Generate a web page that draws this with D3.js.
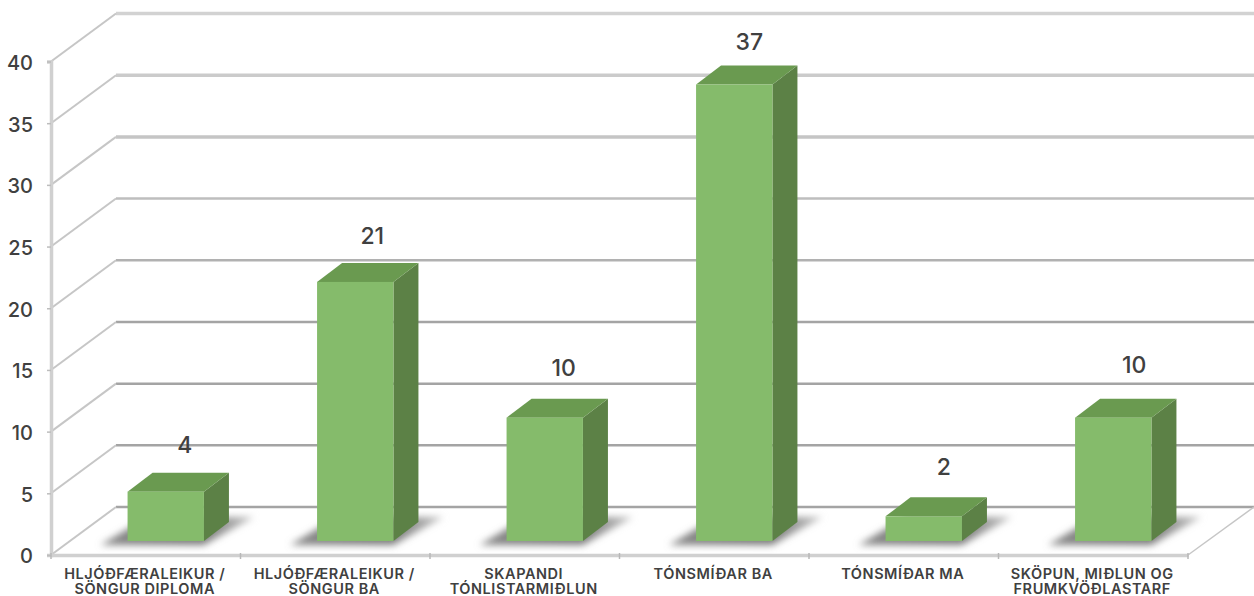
<!DOCTYPE html>
<html>
<head>
<meta charset="utf-8">
<script src="https://cdn.jsdelivr.net/npm/d3@7"></script>
<style>
  html, body { margin: 0; padding: 0; background: #fff; overflow: hidden; }
  text { font-family: Inter, "Open Sans", sans-serif; }
</style>
</head>
<body>
<div id="vis-container"></div>
<script>
// data
const categories = ["HLJÓÐFÆRALEIKUR / SÖNGUR DIPLOMA", "HLJÓÐFÆRALEIKUR / SÖNGUR BA", "SKAPANDI TÓNLISTARMIÐLUN",
                    "TÓNSMÍÐAR BA", "TÓNSMÍÐAR MA", "SKÖPUN, MIÐLUN OG FRUMKVÖÐLASTARF"];
const categoryLines = [["HLJÓÐFÆRALEIKUR /", "SÖNGUR DIPLOMA"], ["HLJÓÐFÆRALEIKUR /", "SÖNGUR BA"], ["SKAPANDI", "TÓNLISTARMIÐLUN"],
                       ["TÓNSMÍÐAR BA"], ["TÓNSMÍÐAR MA"], ["SKÖPUN, MIÐLUN OG", "FRUMKVÖÐLASTARF"]];
const values = [4, 21, 10, 37, 2, 10];
const yTicks = [0, 5, 10, 15, 20, 25, 30, 35, 40];

const width = 1254;
const height = 596;

// the 3d box: front plane of the axes, back wall is shifted by depth
const depthX = 65;
const depthY = -48;
const barDepthX = 25;
const barDepthY = -19;

// value labels were placed by hand in the original, small shifts per bar
const labelShiftX = [0, -2, 0, -4, 1, 2];
const labelShiftY = [0, 1, -3, 4, -2, -6];

const svg = d3.select("#vis-container")
              .append("svg")
              .attr("width", width)
              .attr("height", height)
              .style("display", "block");

const defs = svg.append("defs");
defs.append("filter").attr("id", "blur")
    .attr("x", "-30%").attr("y", "-60%").attr("width", "160%").attr("height", "220%")
    .append("feGaussianBlur").attr("stdDeviation", 3.5);
const shadowFade = defs.append("linearGradient").attr("id", "shadowFade");
shadowFade.append("stop").attr("offset", "0%").attr("stop-color", "#8a8a8a");
shadowFade.append("stop").attr("offset", "65%").attr("stop-color", "#7a7a7a");
shadowFade.append("stop").attr("offset", "100%").attr("stop-color", "#c4c4c4");

const x = d3.scaleBand().domain(categories).range([51, 1188]);
const y = d3.scaleLinear().domain([0, 40]).range([555, 61.5]);
const gridColor = d3.scaleLinear().domain([0, 15, 25, 40])
                    .range(["#a4a4a4", "#a4a4a4", "#bebebe", "#d2d2d2"]);

// height of a bar, bars stand a bit inside the floor so their base is not on y(0)
const barBase = 541;
const barH = d3.scaleLinear().domain([0, 40]).range([0, 493.5]);
const barW = x.bandwidth() * 0.403;
const barX = (d) => x(d) + x.bandwidth() / 2 - barW / 2 + 20;

// back wall grid lines
svg.append("g").selectAll("line")
   .data(yTicks)
   .join("line")
   .attr("x1", x.range()[0] + depthX)
   .attr("x2", width)
   .attr("y1", (d) => y(d) + depthY)
   .attr("y2", (d) => y(d) + depthY)
   .attr("stroke", (d) => gridColor(d))
   .attr("stroke-width", (d) => d > 25 ? 3.5 : 2.5);

// side wall lines
svg.append("g").selectAll("line")
   .data(yTicks)
   .join("line")
   .attr("x1", x.range()[0])
   .attr("x2", x.range()[0] + depthX)
   .attr("y1", (d) => y(d))
   .attr("y2", (d) => y(d) + depthY)
   .attr("stroke", "#c6c6c6")
   .attr("stroke-width", 2);

// right edge of the floor
svg.append("line")
   .attr("x1", x.range()[1]).attr("y1", y(0))
   .attr("x2", width).attr("y2", y(0) + depthY)
   .attr("stroke", "#c6c6c6")
   .attr("stroke-width", 1.5);

// y axis
const yAxis = svg.append("g")
    .attr("transform", "translate(51,0)")
    .call(d3.axisLeft(y).tickValues(yTicks).tickSize(4).tickPadding(14));
yAxis.select(".domain").attr("stroke", "#d0d0d0").attr("stroke-width", 3.5);
yAxis.selectAll("line").attr("stroke", "#bdbdbd").attr("stroke-width", 1.5);
yAxis.selectAll("text").attr("font-size", 20).attr("font-weight", 500).attr("fill", "#404040")
     .attr("transform", "translate(0,1.5)");

// x axis, the library puts ticks mid band so they are hidden and the edges drawn below
const xAxis = svg.append("g")
    .attr("transform", `translate(0,${y(0)})`)
    .call(d3.axisBottom(x).tickSize(0).tickFormat(""));
xAxis.select(".domain").attr("stroke", "#d0d0d0").attr("stroke-width", 3.5);

svg.append("g").selectAll("line")
   .data(categories.concat(["end"]))
   .join("line")
   .attr("x1", (d, i) => i < categories.length ? x(d) : x.range()[1])
   .attr("x2", (d, i) => i < categories.length ? x(d) : x.range()[1])
   .attr("y1", y(0) - 2)
   .attr("y2", y(0) + 4)
   .attr("stroke", "#b8b8b8")
   .attr("stroke-width", 1.5);

// category labels
const catLabels = svg.append("g").selectAll("text")
   .data(categories)
   .join("text")
   .attr("text-anchor", "middle")
   .attr("font-size", 14.5)
   .attr("font-weight", 600)
   .attr("letter-spacing", 0.55)
   .attr("fill", "#404040");
catLabels.each(function(d, i) {
    d3.select(this).selectAll("tspan")
      .data(categoryLines[i])
      .join("tspan")
      .attr("x", x(d) + x.bandwidth() / 2 - 1)
      .attr("y", (l, j) => 579 + j * 15)
      .text((l) => l);
});

// shadows on the floor
svg.append("g").selectAll("path")
   .data(categories)
   .join("path")
   .attr("d", (d) => {
       const l = barX(d);
       const p = d3.path();
       p.moveTo(l - 27, barBase + 4);
       p.lineTo(l + barW, barBase + 4);
       p.lineTo(l + barW + 50, barBase - 24);
       p.lineTo(l + 20, barBase - 24);
       p.closePath();
       return p.toString();
   })
   .attr("fill", "url(#shadowFade)")
   .attr("filter", "url(#blur)");

// bars: side, top and then the front face
const bars = svg.append("g").selectAll("g")
   .data(categories)
   .join("g");

bars.append("path")
   .attr("d", (d, i) => {
       const r = barX(d) + barW;
       const t = barBase - barH(values[i]);
       return `M${r},${barBase}L${r + barDepthX},${barBase + barDepthY}L${r + barDepthX},${t + barDepthY}L${r},${t}Z`;
   })
   .attr("fill", "#5c8146");

bars.append("path")
   .attr("d", (d, i) => {
       const l = barX(d);
       const t = barBase - barH(values[i]);
       return `M${l},${t}L${l + barDepthX},${t + barDepthY}L${l + barW + barDepthX},${t + barDepthY}L${l + barW},${t}Z`;
   })
   .attr("fill", "#6a9a50");

bars.append("rect")
   .attr("x", (d) => barX(d))
   .attr("y", (d, i) => barBase - barH(values[i]))
   .attr("width", barW)
   .attr("height", (d, i) => barH(values[i]))
   .attr("fill", "#85bb6b");

// value labels
svg.append("g").selectAll("text")
   .data(categories)
   .join("text")
   .attr("x", (d, i) => barX(d) + barW / 2 + 19 + labelShiftX[i])
   .attr("y", (d, i) => barBase - barH(values[i]) - 47 + labelShiftY[i])
   .attr("dy", "0.35em")
   .attr("text-anchor", "middle")
   .attr("font-size", 23)
   .attr("font-weight", 500)
   .attr("fill", "#404040")
   .text((d, i) => values[i]);
</script>
</body>
</html>
